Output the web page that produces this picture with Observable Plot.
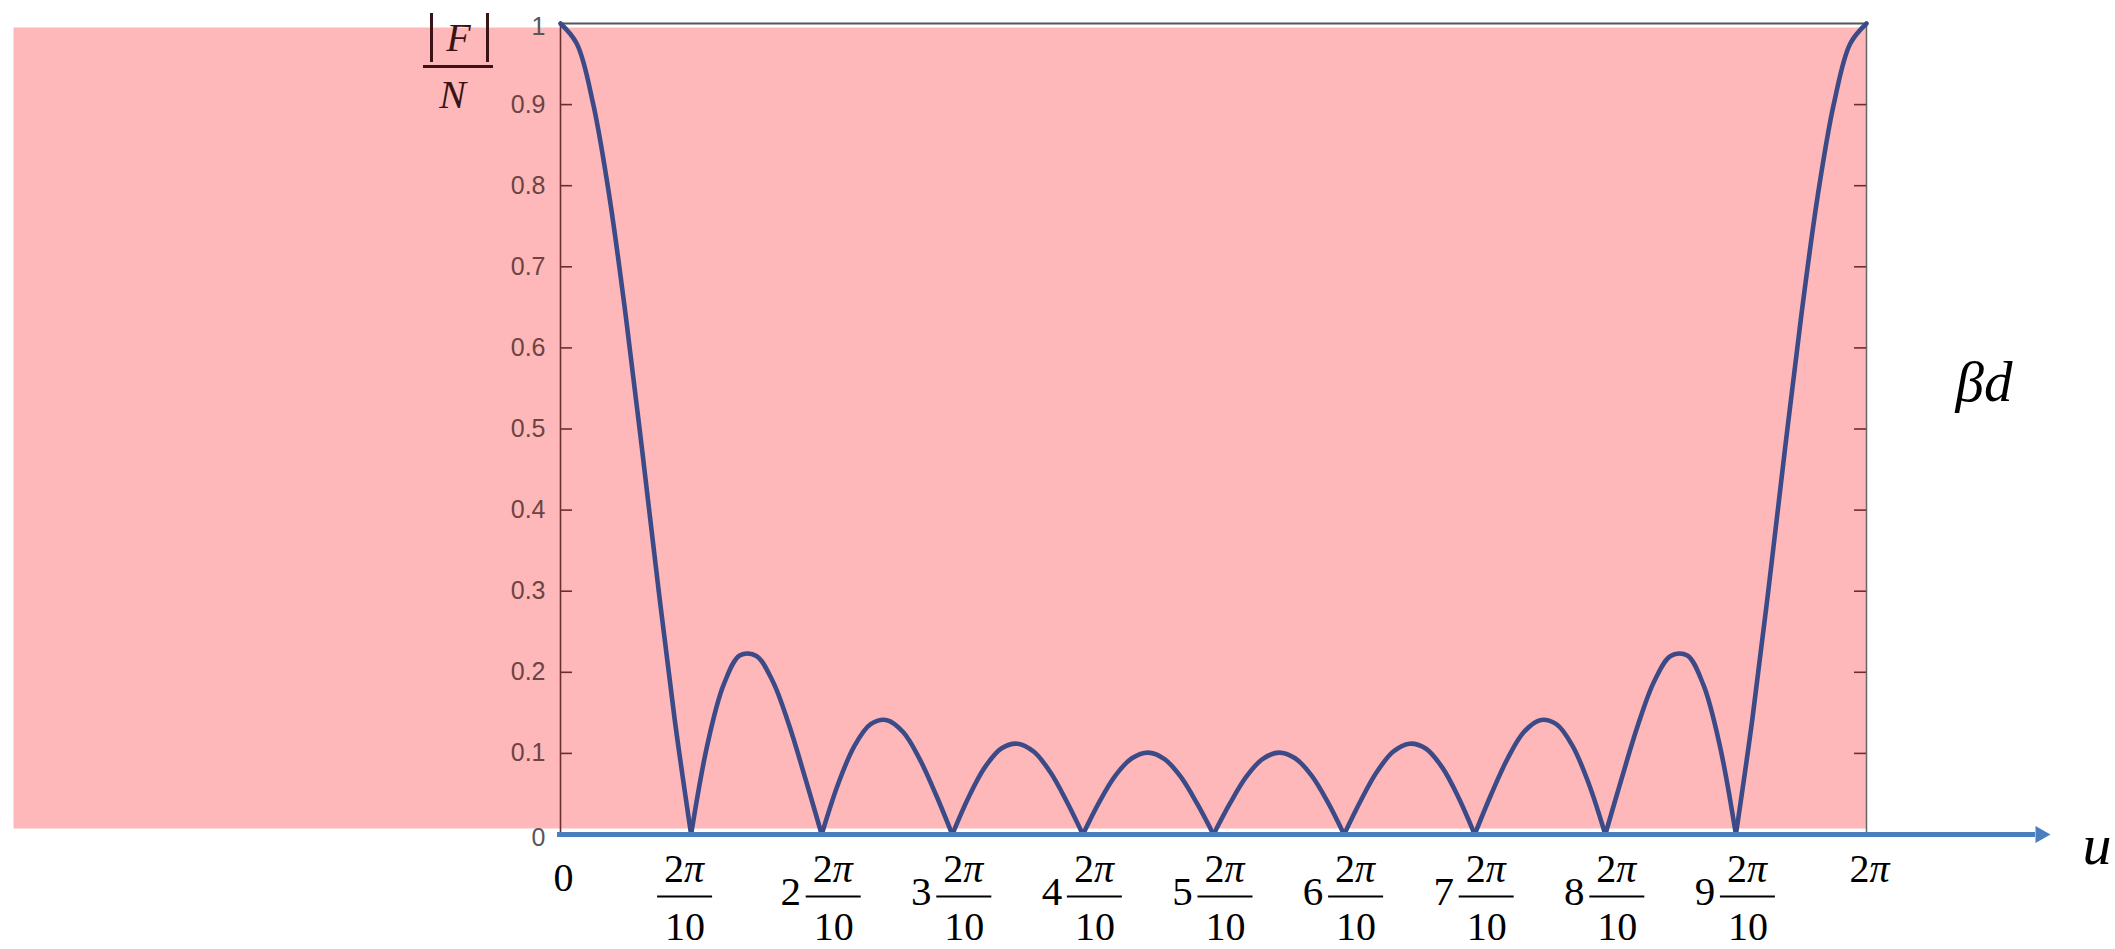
<!DOCTYPE html>
<html>
<head>
<meta charset="utf-8">
<script src="https://cdn.jsdelivr.net/npm/d3@7"></script>
<script src="https://cdn.jsdelivr.net/npm/@observablehq/plot@0.6"></script>
<style>
  body { margin: 0; background: #ffffff; }
  #chart svg { display: block; overflow: visible; }
</style>
</head>
<body>
<div id="chart"></div>
<script>
const magnitude = [
  1, 0.975, 0.901, 0.786, 0.639, 0.474, 0.303, 0.141, 0,
  0.111, 0.185, 0.221, 0.220, 0.189, 0.135, 0.069, 0,
  0.062, 0.109, 0.136, 0.141, 0.126, 0.093, 0.049, 0,
  0.046, 0.083, 0.106, 0.112, 0.102, 0.077, 0.041, 0,
  0.040, 0.073, 0.094, 0.101, 0.093, 0.071, 0.038, 0,
  0.038, 0.071, 0.093, 0.101, 0.094, 0.073, 0.040, 0,
  0.041, 0.077, 0.102, 0.112, 0.106, 0.083, 0.046, 0,
  0.049, 0.093, 0.126, 0.141, 0.136, 0.109, 0.062, 0,
  0.069, 0.135, 0.189, 0.220, 0.221, 0.185, 0.111, 0,
  0.141, 0.303, 0.474, 0.639, 0.786, 0.901, 0.975, 1
];
const samplesPerLobe = 8;
const lobeCount = 10;

// y axis ticks
const yTickValues = [0, 0.1, 0.2, 0.3, 0.4, 0.5, 0.6, 0.7, 0.8, 0.9, 1];
const yTickLabels = ["0", "0.1", "0.2", "0.3", "0.4", "0.5", "0.6", "0.7", "0.8", "0.9", "1"];

// x axis ticks: multiples of 2π/10
const xTickMultiples = [0, 1, 2, 3, 4, 5, 6, 7, 8, 9, 10];
const xTickCoefficients = ["", "", "2", "3", "4", "5", "6", "7", "8", "9", ""];
const numeratorDigit = "2";
const numeratorSymbol = "π";
const fractionDenominator = "10";
const xStartLabel = "0";
const yLabelNumerator = "F";
const yLabelDenominator = "N";
const rightLabel = "βd";
const axisLabel = "u";

const TWO_PI = 2 * Math.PI;
const step = TWO_PI / (samplesPerLobe * lobeCount);

// rows grouped by lobe; each zero is shared by two neighbouring lobes
const rows = [];
magnitude.forEach((v, i) => {
  const u = i * step;
  const lobe = Math.min(Math.floor(i / samplesPerLobe), lobeCount - 1);
  rows.push({u, v, lobe});
  if (i > 0 && i < magnitude.length - 1 && i % samplesPerLobe === 0) rows.push({u, v, lobe: lobe - 1});
});

const xTicks = xTickMultiples.map(m => ({m, u: m * TWO_PI / 10, coef: xTickCoefficients[m]}));
const fracFirst = xTicks.filter(d => d.m === 1);
const fracRest = xTicks.filter(d => d.m >= 2 && d.m <= 9);
const lastTick = xTicks.filter(d => d.m === 10);
const innerY = yTickValues.filter(v => v > 0 && v < 1);

const PINK = "#feb8b9";
const BROWN = "#6b2e2e";
const LABEL_BROWN = "#6d4343";
const GRAY = "#575757";
const CURVE = "#3c4b87";
const BLUE = "#4a7ebf";
const SERIF = "Liberation Serif, Times New Roman, serif";
const SANS = "Liberation Sans, Arial, sans-serif";

// "2π" written as upright 2 + italic π, centred at dx
function twoPi(data, dx, dy) {
  return [
    Plot.text(data, {x: "u", y: () => 0, text: () => numeratorDigit, dx: dx - 1, dy, textAnchor: "end", lineAnchor: "middle", fontFamily: SERIF, fontSize: 40, fill: "#000"}),
    Plot.text(data, {x: "u", y: () => 0, text: () => numeratorSymbol, dx: dx - 1, dy, textAnchor: "start", lineAnchor: "middle", fontFamily: SERIF, fontStyle: "italic", fontSize: 40, fill: "#000"})
  ];
}
function fraction(data, dx) {
  return [
    ...twoPi(data, dx, 35),
    Plot.ruleY(data, {x1: "u", x2: "u", y: () => 0, dx, dy: 62, insetLeft: -27.5, insetRight: -27.5, stroke: "#000", strokeWidth: 2}),
    Plot.text(data, {x: "u", y: () => 0, text: () => fractionDenominator, dx, dy: 93, lineAnchor: "middle", fontFamily: SERIF, fontSize: 40, fill: "#000"})
  ];
}

const chart = Plot.plot({
  width: 2115,
  height: 949,
  marginTop: 23,
  marginBottom: 115,
  marginLeft: 560,
  marginRight: 249,
  style: {background: "#ffffff", overflow: "visible"},
  x: {domain: [0, TWO_PI], axis: null},
  y: {domain: [0, 1], axis: null},
  marks: [
    // pink panel
    Plot.frame({fill: PINK, stroke: "none", insetLeft: -547, insetTop: 4, insetBottom: 6}),
    // box lines
    Plot.ruleY([1], {x1: 0, x2: TWO_PI, stroke: GRAY, strokeWidth: 2}),
    Plot.ruleX([TWO_PI], {y1: 0, y2: 1, stroke: "#666666", strokeWidth: 1.5}),
    Plot.ruleX([0], {y1: 0, y2: 1, stroke: BROWN, strokeWidth: 1.6}),
    // inward ticks
    Plot.ruleY(innerY, {x1: 0, x2: 0, insetRight: -12, stroke: BROWN, strokeWidth: 1.6}),
    Plot.ruleY(innerY, {x1: TWO_PI, x2: TWO_PI, insetLeft: -12, stroke: BROWN, strokeWidth: 1.6}),
    // y tick labels
    Plot.text(yTickValues.map((v, i) => ({v, t: yTickLabels[i]})).filter(d => d.v > 0 && d.v < 1), {
      x: () => 0, y: "v", text: "t", dx: -15, textAnchor: "end", lineAnchor: "middle",
      fontFamily: SANS, fontSize: 25, fill: LABEL_BROWN
    }),
    Plot.text(yTickValues.map((v, i) => ({v, t: yTickLabels[i]})).filter(d => d.v === 0 || d.v === 1), {
      x: () => 0, y: "v", text: "t", dx: -15, dy: 3, textAnchor: "end", lineAnchor: "middle",
      fontFamily: SANS, fontSize: 25, fill: GRAY
    }),
    // the curve
    Plot.line(rows, {x: "u", y: "v", z: "lobe", curve: "catmull-rom", stroke: CURVE, strokeWidth: 4.6, strokeLinejoin: "round", strokeLinecap: "round"}),
    // blue u axis with arrow
    Plot.ruleY([0], {x1: 0, x2: TWO_PI, insetLeft: -3, insetRight: -169, stroke: BLUE, strokeWidth: 5}),
    Plot.dot([0], {x: () => TWO_PI, y: () => 0, symbol: "triangle", rotate: 90, r: 6.4, fill: BLUE, stroke: "none", dx: 174}),
    // x tick labels
    Plot.text([xStartLabel], {x: () => 0, y: () => 0, text: d => d, dx: 3, dy: 44, lineAnchor: "middle", fontFamily: SERIF, fontSize: 40, fill: "#000"}),
    ...twoPi(lastTick, 4, 35),
    ...fraction(fracFirst, -6),
    Plot.text(fracRest, {x: "u", y: () => 0, text: "coef", dx: -31, dy: 57, lineAnchor: "middle", fontFamily: SERIF, fontSize: 41, fill: "#000"}),
    ...fraction(fracRest, 12),
    // y label |F| / N
    Plot.text([yLabelNumerator], {x: () => 0, y: () => 1, text: d => d, dx: -102, dy: 15, lineAnchor: "middle", fontFamily: SERIF, fontStyle: "italic", fontSize: 40, fill: "#3a1414"}),
    Plot.ruleX([0], {y1: () => 1, y2: () => 1, insetTop: -10, insetBottom: -39, dx: -129, stroke: "#3a1414", strokeWidth: 3}),
    Plot.ruleX([0], {y1: () => 1, y2: () => 1, insetTop: -10, insetBottom: -39, dx: -73, stroke: "#3a1414", strokeWidth: 3}),
    Plot.ruleY([1], {x1: () => 0, x2: () => 0, insetLeft: -35, insetRight: -35, dx: -102, dy: 43, stroke: "#3a1414", strokeWidth: 3}),
    Plot.text([yLabelDenominator], {x: () => 0, y: () => 1, text: d => d, dx: -108, dy: 72, lineAnchor: "middle", fontFamily: SERIF, fontStyle: "italic", fontSize: 40, fill: "#3a1414"}),
    // βd and u
    Plot.text([rightLabel], {frameAnchor: "top-right", text: d => d, dx: 89, dy: 359, textAnchor: "start", lineAnchor: "middle", fontFamily: SERIF, fontStyle: "italic", fontSize: 57, fill: "#000"}),
    Plot.text([axisLabel], {frameAnchor: "bottom-right", text: d => d, dx: 216, dy: 11, textAnchor: "start", lineAnchor: "middle", fontFamily: SERIF, fontStyle: "italic", fontSize: 58, fill: "#000"})
  ]
});
document.getElementById("chart").appendChild(chart);
</script>
</body>
</html>
